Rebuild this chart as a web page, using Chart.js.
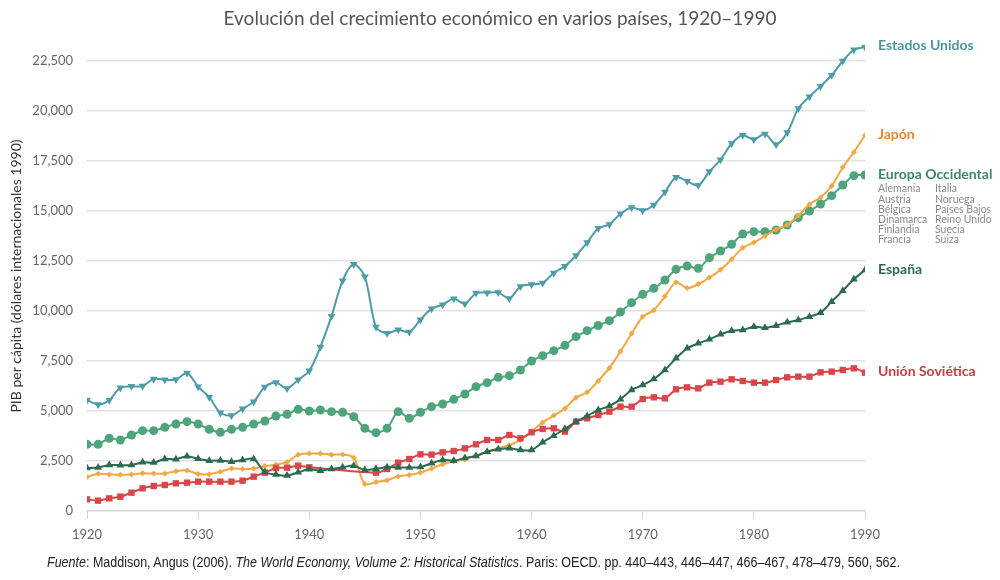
<!DOCTYPE html>
<html>
<head>
<meta charset="utf-8">
<script src="https://cdn.jsdelivr.net/npm/chart.js@4/dist/chart.umd.min.js"></script>
<style>
  html, body { margin: 0; padding: 0; background: #ffffff; }
  #wrap { position: relative; width: 1000px; height: 580px; overflow: hidden; }
  #c { position: absolute; left: 0; top: 0; }
  #title { position: absolute; left: 0; top: 6px; width: 1000px; text-align: center;
           font-family: Lato, "Open Sans", sans-serif; font-size: 19px; color: #555; }
  #foot { position: absolute; left: 47px; top: 554px; white-space: nowrap; transform-origin: 0 0;
          font-family: "Liberation Sans", Arial, sans-serif; font-size: 14px; color: #222; }
</style>
</head>
<body>
<div id="wrap">
  <canvas id="c" width="1000" height="580"></canvas>
  <div id="title">Evolución del crecimiento económico en varios países, 1920–1990</div>
  <div id="foot"><i>Fuente</i>: Maddison, Angus (2006). <i>The World Economy, Volume 2: Historical Statistics</i>. Paris: OECD. pp. 440–443, 446–447, 466–467, 478–479, 560, 562.</div>
</div>
<script>
const years = [1920,1921,1922,1923,1924,1925,1926,1927,1928,1929,
  1930,1931,1932,1933,1934,1935,1936,1937,1938,1939,
  1940,1941,1942,1943,1944,1945,1946,1947,1948,1949,
  1950,1951,1952,1953,1954,1955,1956,1957,1958,1959,
  1960,1961,1962,1963,1964,1965,1966,1967,1968,1969,
  1970,1971,1972,1973,1974,1975,1976,1977,1978,1979,
  1980,1981,1982,1983,1984,1985,1986,1987,1988,1989,1990];

const xTicks = [1920,1930,1940,1950,1960,1970,1980,1990];
const yTicks = [0,2500,5000,7500,10000,12500,15000,17500,20000,22500];

const estadosUnidos = [5552,5323,5540,6164,6233,6248,6602,6563,6570,6899,
  6213,5691,4908,4777,5114,5467,6204,6430,6126,6561,
  7010,8206,9741,11518,12333,11709,9197,8886,9065,8944,
  9561,10116,10316,10613,10359,10897,10914,10920,10631,11230,
  11328,11402,11905,12242,12773,13419,14134,14330,14863,15179,
  15030,15304,15944,16689,16491,16284,16975,17567,18373,18789,
  18577,18856,18325,18920,20123,20717,21236,21788,22499,23059,23201];

const japon = [1696,1860,1831,1809,1829,1885,1872,1870,1991,2026,
  1850,1837,1962,2122,2098,2120,2244,2315,2449,2816,
  2874,2873,2818,2822,2659,1346,1444,1541,1725,1800,
  1921,2126,2336,2474,2582,2771,2948,3136,3289,3554,
  3986,4426,4777,5129,5668,5934,6506,7152,7983,8874,
  9714,10040,10734,11434,11145,11344,11669,12064,12585,13163,
  13428,13754,14078,14307,14773,15331,15679,16251,17185,17943,18789];

const europaOccidental = [3333,3333,3633,3550,3800,4017,4017,4183,4350,4467,
  4350,4083,3933,4083,4183,4350,4500,4750,4833,5083,
  5000,5050,4967,4933,4717,4133,3917,4133,4967,4633,
  4933,5217,5350,5583,5850,6217,6417,6683,6767,7050,
  7500,7767,8017,8283,8717,9017,9275,9517,9950,10417,
  10833,11133,11550,12083,12250,12133,12667,13000,13333,13850,
  13967,13967,14050,14300,14667,15000,15350,15767,16300,16767,16800];

const espana = [2150,2170,2300,2290,2300,2433,2420,2600,2590,2740,
  2610,2517,2530,2467,2550,2600,1950,1820,1770,1933,
  2083,2017,2100,2183,2267,2050,2110,2183,2180,2170,
  2200,2383,2550,2517,2650,2750,2967,3083,3133,3050,
  3050,3433,3767,4100,4467,4750,5050,5250,5583,6050,
  6300,6600,7050,7633,8133,8383,8583,8833,9017,9050,
  9217,9167,9267,9433,9550,9717,9917,10467,11017,11583,12050];

const unionSovietica = [583,517,633,717,917,1133,1250,1300,1383,1417,
  1467,1467,1467,1467,1517,1717,1917,2150,2167,2267,
  2183,null,null,null,null,null,1917,2100,2417,2600,
  2833,2820,2933,3000,3133,3333,3550,3550,3800,3633,
  3933,4100,4133,3967,4467,4633,4800,4967,5217,5217,
  5600,5683,5633,6083,6183,6133,6417,6467,6583,6500,
  6417,6417,6550,6683,6717,6717,6933,6967,7050,7133,6917];

const paisesEuropa = ["Alemania","Austria","Bélgica","Dinamarca","Finlandia","Francia",
  "Italia","Noruega","Países Bajos","Reino Unido","Suecia","Suiza"];

const pts = arr => years.map((y, i) => ({x: y, y: arr[i]}));

const series = [
  {label: "Estados Unidos", data: estadosUnidos, line: "#4e9ca7", text: "#4a96a1", style: "triangle", rot: 180, r: 4.5, order: 5},
  {label: "Japón", data: japon, line: "#f2a843", text: "#e8872c", style: "rectRot", rot: 0, r: 3, order: 3},
  {label: "Europa Occidental", data: europaOccidental, line: "#4fa57b", text: "#3b8a66", style: "circle", rot: 0, r: 4.5, order: 4},
  {label: "España", data: espana, line: "#2b6b4f", text: "#2d6a4f", style: "triangle", rot: 0, r: 4.5, order: 1},
  {label: "Unión Soviética", data: unionSovietica, line: "#d8464a", text: "#c8403f", style: "rect", rot: 0, r: 4.5, order: 2}
];

const endLabels = {
  id: "endLabels",
  afterDatasetsDraw(chart) {
    const ctx = chart.ctx;
    const ys = chart.scales.y;
    ctx.save();
    ctx.textBaseline = "middle";
    ctx.textAlign = "left";
    series.forEach(s => {
      const last = s.data[s.data.length - 1];
      const py = ys.getPixelForValue(last) - 1;
      ctx.font = "bold 14px Lato, 'Open Sans', sans-serif";
      ctx.fillStyle = s.text;
      ctx.fillText(s.label, 878, py);
      if (s.label === "Europa Occidental") {
        ctx.font = "10.5px Lato, 'Open Sans', sans-serif";
        ctx.fillStyle = "#8a8a8a";
        paisesEuropa.forEach((p, i) => {
          const col = Math.floor(i / 6), row = i % 6;
          ctx.fillText(p, 878 + col * 57, py + 15 + row * 10.2);
        });
      }
    });
    ctx.restore();
  }
};

new Chart(document.getElementById("c"), {
  type: "line",
  data: {
    datasets: series.map(s => ({
      label: s.label,
      data: pts(s.data),
      borderColor: s.line,
      backgroundColor: s.line,
      borderWidth: 2,
      pointStyle: s.style,
      pointRotation: s.rot,
      pointRadius: s.r,
      pointBorderWidth: 0,
      pointHoverRadius: s.r,
      tension: 0.3,
      spanGaps: true,
      order: s.order
    }))
  },
  options: {
    responsive: false,
    animation: false,
    events: [],
    layout: { padding: { top: 41, right: 135, left: 0, bottom: 0 } },
    plugins: { legend: { display: false }, tooltip: { enabled: false }, title: { display: false } },
    scales: {
      x: {
        type: "linear",
        min: 1920, max: 1990,
        afterFit: sc => { sc.height = 69; },
        afterBuildTicks: sc => { sc.ticks = xTicks.map(v => ({value: v})); },
        ticks: {
          color: "#666",
          font: { family: "Lato, 'Open Sans', sans-serif", size: 13 },
          padding: 8,
          callback: v => String(v)
        },
        grid: { drawOnChartArea: false, drawTicks: true, tickLength: 8, color: "#d3d6da" },
        border: { display: true, color: "#d3d6da", width: 1.5 }
      },
      y: {
        min: 0, max: 23500,
        afterFit: sc => { sc.width = 87; },
        afterBuildTicks: sc => { sc.ticks = yTicks.map(v => ({value: v})); },
        ticks: {
          color: "#666",
          font: { family: "Lato, 'Open Sans', sans-serif", size: 13 },
          padding: 14,
          callback: v => v.toLocaleString("en-US")
        },
        grid: { drawTicks: false, color: c => c.tick && c.tick.value === 0 ? "rgba(0,0,0,0)" : "#e3e3e3", lineWidth: 1.5 },
        border: { display: false },
        title: {
          display: true,
          text: "PIB per cápita (dólares internacionales 1990)",
          color: "#333",
          font: { family: "Lato, 'Open Sans', sans-serif", size: 14 },
          padding: { top: 8, bottom: 0 }
        }
      }
    }
  },
  plugins: [endLabels]
});

const foot = document.getElementById("foot");
const w = foot.getBoundingClientRect().width;
foot.style.transform = "scaleX(" + (853 / w) + ")";
</script>
</body>
</html>
